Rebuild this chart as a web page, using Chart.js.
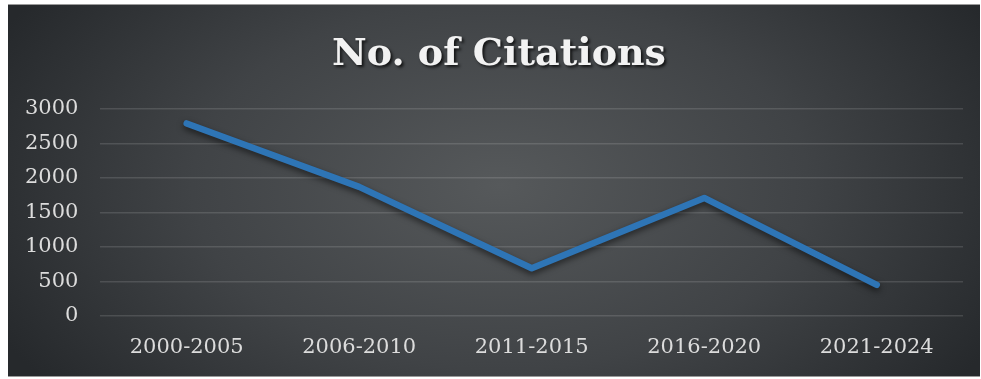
<!DOCTYPE html>
<html>
<head>
<meta charset="utf-8">
<script src="https://cdn.jsdelivr.net/npm/chart.js@4/dist/chart.umd.min.js"></script>
<style>
  html, body { margin: 0; padding: 0; background: #ffffff; }
  #wrap { position: relative; width: 981px; height: 379px; }
</style>
</head>
<body>
<div id="wrap"><canvas id="c"></canvas></div>
<script>
const chartTitle = "No. of Citations";
const categories = ["2000-2005", "2006-2010", "2011-2015", "2016-2020", "2021-2024"];
const citations = [2790, 1870, 690, 1710, 450];
const yTicks = [0, 500, 1000, 1500, 2000, 2500, 3000];

const bgPlugin = {
  id: 'bgPlugin',
  beforeDraw(chart) {
    const ctx = chart.ctx;
    const x0 = 8, y0 = 4, x1 = 980, y1 = 377;
    ctx.save();
    ctx.fillStyle = '#ffffff';
    ctx.fillRect(0, 0, chart.width, chart.height);
    ctx.beginPath();
    ctx.rect(x0, y0, x1 - x0, y1 - y0);
    ctx.clip();
    const cx = 500, cy = 185;
    ctx.translate(cx, cy);
    ctx.scale(1, 0.6);
    const g = ctx.createRadialGradient(0, 0, 0, 0, 0, 560);
    g.addColorStop(0, '#56595b');
    g.addColorStop(0.55, '#404346');
    g.addColorStop(1, '#26292c');
    ctx.fillStyle = g;
    ctx.fillRect(-cx, -cy / 0.6, chart.width + 100, chart.height / 0.6 + 200);
    ctx.restore();
    ctx.save();
    ctx.strokeStyle = '#9a9a9a';
    ctx.lineWidth = 1;
    ctx.beginPath();
    ctx.moveTo(x0, y0 + 0.5); ctx.lineTo(x1, y0 + 0.5);
    ctx.moveTo(x0, y1 - 0.5); ctx.lineTo(x1, y1 - 0.5);
    ctx.stroke();
    ctx.restore();
  },
  afterDraw(chart) {
    const ctx = chart.ctx;
    ctx.save();
    ctx.font = 'bold 38px "DejaVu Serif"';
    ctx.textAlign = 'center';
    ctx.textBaseline = 'alphabetic';
    ctx.shadowColor = 'rgba(0,0,0,0.75)';
    ctx.shadowBlur = 3;
    ctx.shadowOffsetX = 2;
    ctx.shadowOffsetY = 2;
    ctx.fillStyle = '#f2f2f2';
    ctx.fillText(chartTitle, 499, 65);
    ctx.restore();
  },
  beforeDatasetDraw(chart) {
    const ctx = chart.ctx;
    ctx.save();
    ctx.shadowColor = 'rgba(0,0,0,0.55)';
    ctx.shadowBlur = 6;
    ctx.shadowOffsetX = 0;
    ctx.shadowOffsetY = 3;
  },
  afterDatasetDraw(chart) {
    chart.ctx.restore();
  }
};

new Chart(document.getElementById('c'), {
  type: 'line',
  data: {
    labels: categories,
    datasets: [{
      label: chartTitle,
      data: citations,
      borderColor: '#2e75b6',
      backgroundColor: '#2e75b6',
      borderWidth: 6.5,
      borderCapStyle: 'round',
      borderJoinStyle: 'round',
      pointRadius: 0,
      pointHoverRadius: 0,
      tension: 0,
      fill: false
    }]
  },
  options: {
    responsive: true,
    maintainAspectRatio: false,
    animation: false,
    events: [],
    layout: { padding: { left: 3, right: 18, top: 109, bottom: 0 } },
    plugins: {
      legend: { display: false },
      title: { display: false },
      tooltip: { enabled: false }
    },
    scales: {
      x: {
        offset: true,
        grid: { display: false, drawTicks: false },
        border: { display: false },
        ticks: {
          color: '#dcdcdc',
          padding: 19,
          maxRotation: 0,
          font: { family: '"DejaVu Serif"', size: 21 }
        }
      },
      y: {
        min: 0,
        max: 3000,
        afterBuildTicks(scale) { scale.ticks = yTicks.map(v => ({ value: v })); },
        grid: { color: 'rgba(255,255,255,0.13)', lineWidth: 1.5, drawTicks: false },
        border: { display: false },
        ticks: {
          color: '#dcdcdc',
          padding: 22,
          font: { family: '"DejaVu Serif"', size: 21 },
          callback: (v) => String(v)
        }
      }
    }
  },
  plugins: [bgPlugin]
});
</script>
</body>
</html>
